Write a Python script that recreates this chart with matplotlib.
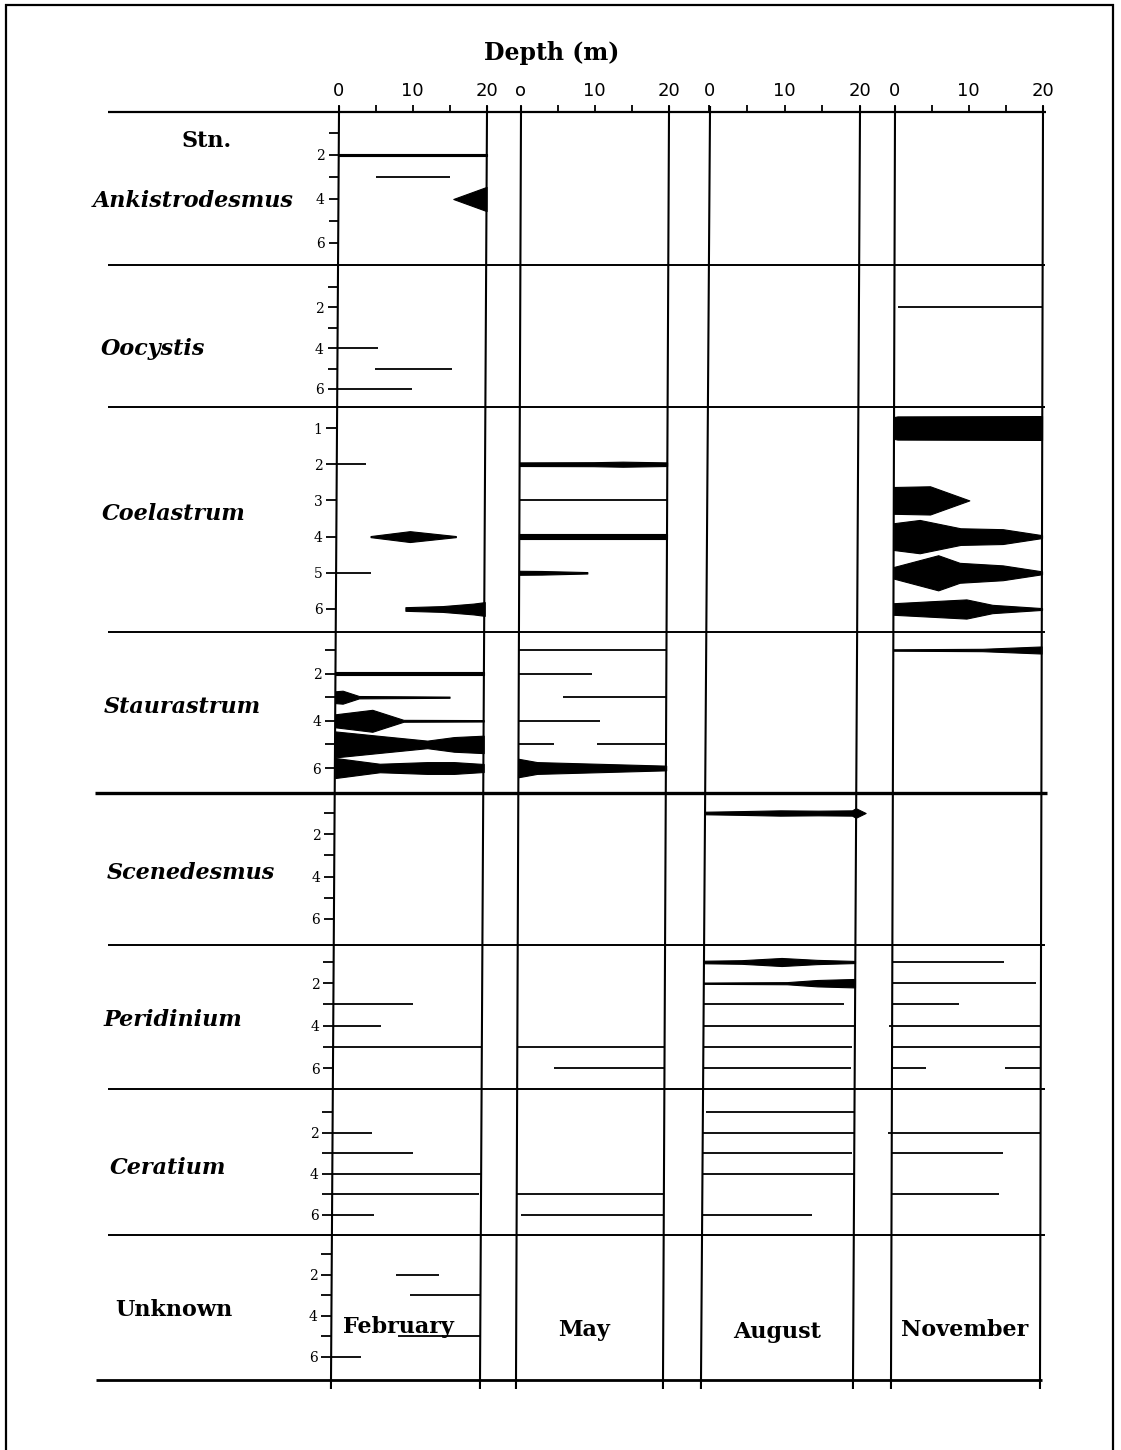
import matplotlib
matplotlib.use("Agg")
import matplotlib.pyplot as plt
from matplotlib.lines import Line2D

# ---------------------------------------------------------------- data
month_keys = ["Feb", "May", "Aug", "Nov"]
month_names = ["February", "May", "August", "November"]
depth_ticks = [0, 5, 10, 15, 20]
depth_ticklabels = [["0", "", "10", "", "20"],
                    ["o", "", "10", "", "20"],
                    ["0", "", "10", "", "20"],
                    ["0", "", "10", "", "20"]]
stations = [1, 2, 3, 4, 5, 6]
taxa = ["Ankistrodesmus", "Oocystis", "Coelastrum", "Staurastrum",
        "Scenedesmus", "Peridinium", "Ceratium", "Unknown"]
labelled_stations = [[2, 4, 6], [2, 4, 6], [1, 2, 3, 4, 5, 6], [2, 4, 6],
                     [2, 4, 6], [2, 4, 6], [2, 4, 6], [2, 4, 6]]

# occurrence ranges: (month, station, from depth m, to depth m)
# abundance profiles: (month, station, depths m, relative abundance width)
ankistrodesmus_ranges = [("Feb", 3, 5.0, 15.0)]
ankistrodesmus_profiles = [("Feb", 2, [0, 20], [0.12, 0.12]),
                           ("Feb", 4, [15.5, 20], [0.0, 1.1])]

oocystis_ranges = [("Feb", 4, 0, 5.5), ("Feb", 5, 5.0, 15.4),
                   ("Feb", 6, 0, 10.0), ("Nov", 2, 0.5, 20)]
oocystis_profiles = []

coelastrum_ranges = [("Feb", 2, 0, 4.0), ("Feb", 5, 0, 4.7), ("May", 3, 0, 20)]
coelastrum_profiles = [
    ("Feb", 4, [4.6, 9.9, 16.1], [0.03, 0.30, 0.03]),
    ("Feb", 6, [9.3, 14.3, 18.5, 20], [0.10, 0.16, 0.30, 0.38]),
    ("May", 2, [0, 10, 14, 20], [0.10, 0.11, 0.14, 0.10]),
    ("May", 4, [0, 20], [0.13, 0.13]),
    ("May", 5, [0, 3, 9.2], [0.11, 0.10, 0.04]),
    ("Nov", 1, [0, 0.5, 19.5, 20], [0.60, 0.64, 0.66, 0.66]),
    ("Nov", 3, [0, 4.9, 10.2], [0.74, 0.78, 0.0]),
    ("Nov", 4, [0, 3.5, 9, 14.7, 20], [0.74, 0.92, 0.46, 0.41, 0.08]),
    ("Nov", 5, [0, 6, 8.9, 14.7, 20], [0.32, 0.97, 0.55, 0.41, 0.08]),
    ("Nov", 6, [0, 9.8, 13.3, 20], [0.32, 0.53, 0.23, 0.05]),
]

staurastrum_ranges = [("May", 1, 0, 20), ("May", 2, 0, 9.9), ("May", 3, 6.0, 20),
                      ("May", 4, 0, 11.0), ("May", 5, 0, 4.8), ("May", 5, 10.6, 20)]
staurastrum_profiles = [
    ("Feb", 2, [0, 20], [0.13, 0.13]),
    ("Feb", 3, [0, 1, 3.2, 15.4], [0.50, 0.55, 0.10, 0.05]),
    ("Feb", 4, [0, 5, 9.2, 20], [0.55, 0.93, 0.08, 0.06]),
    ("Feb", 5, [0, 6, 12.4, 16, 20], [1.10, 0.72, 0.32, 0.62, 0.74]),
    ("Feb", 6, [0, 6, 12.4, 16, 20], [0.85, 0.36, 0.50, 0.50, 0.34]),
    ("May", 6, [0, 2.5, 20], [0.78, 0.50, 0.20]),
    ("Nov", 1, [0, 12, 20], [0.06, 0.10, 0.30]),
]

scenedesmus_ranges = []
scenedesmus_profiles = [
    ("Aug", 1, [0, 5, 10, 15, 19.5, 20, 21.3], [0.12, 0.18, 0.25, 0.22, 0.25, 0.45, 0.0]),
]

peridinium_ranges = [("Feb", 3, 0, 10.7), ("Feb", 4, 0, 6.4), ("Feb", 5, 0, 20),
                     ("May", 5, 0, 20), ("May", 6, 4.9, 20),
                     ("Aug", 3, 0, 18.5), ("Aug", 4, 0, 20), ("Aug", 5, 0, 19.6),
                     ("Aug", 6, 0, 19.5),
                     ("Nov", 1, 0, 15.0), ("Nov", 2, 0, 19.3), ("Nov", 3, 0, 9.0),
                     ("Nov", 4, -0.4, 20), ("Nov", 5, 0, 20), ("Nov", 6, 0, 4.5),
                     ("Nov", 6, 15.2, 20)]
peridinium_profiles = [
    ("Aug", 1, [0, 5, 10.3, 15, 20], [0.12, 0.17, 0.38, 0.20, 0.10]),
    ("Aug", 2, [0, 11, 15, 20], [0.06, 0.10, 0.30, 0.40]),
]

ceratium_ranges = [("Feb", 2, 0, 5.3), ("Feb", 3, 0, 10.9), ("Feb", 4, 0, 20),
                   ("Feb", 5, 0, 19.7), ("Feb", 6, 0, 5.6),
                   ("May", 5, 0, 20), ("May", 6, 0.5, 20),
                   ("Aug", 1, 0.5, 20), ("Aug", 2, 0, 20), ("Aug", 3, 0, 19.7),
                   ("Aug", 4, 0, 20), ("Aug", 6, 0, 14.5),
                   ("Nov", 2, -0.5, 20), ("Nov", 3, 0, 14.9), ("Nov", 5, 0, 14.4)]
ceratium_profiles = []

unknown_ranges = [("Feb", 2, 8.6, 14.4), ("Feb", 3, 10.6, 20),
                  ("Feb", 5, 9.0, 20), ("Feb", 6, 0, 4.0)]
unknown_profiles = []

ranges_by_taxon = [ankistrodesmus_ranges, oocystis_ranges, coelastrum_ranges,
                   staurastrum_ranges, scenedesmus_ranges, peridinium_ranges,
                   ceratium_ranges, unknown_ranges]
profiles_by_taxon = [ankistrodesmus_profiles, oocystis_profiles, coelastrum_profiles,
                     staurastrum_profiles, scenedesmus_profiles, peridinium_profiles,
                     ceratium_profiles, unknown_profiles]

# ---------------------------------------------------------------- layout (pixels)
W, H = 1121, 1450
SERIF = ["DejaVu Serif"]
SANS = ["DejaVu Sans"]

# (row top, row bottom, station 1 centre, station 6 centre)
row_px = [(112, 265, 133, 243), (265, 407, 287, 389), (407, 632, 428, 609),
          (632, 793, 650, 768), (793, 945, 813, 919), (945, 1089, 962, 1068),
          (1089, 1235, 1112, 1215), (1235, 1380, 1254, 1357)]
# x of 0 m and 20 m for each month, at the header line and at the bottom line
col_top = [(339, 487), (521, 669), (710, 860), (895, 1043)]
col_bot = [(331, 480), (516, 663), (701, 853), (891, 1040)]
Y_TOP, Y_BOT = 112, 1380

# taxon label (centre x, baseline y), italic flag
taxon_label_pos = [(193, 207), (153, 355), (174, 520), (182, 713),
                   (191, 879), (173, 1026), (168, 1174), (174, 1316)]
taxon_italic = [True, True, True, True, True, True, True, False]
month_label_pos = [(398, 1333), (584, 1336), (777, 1338), (965, 1336)]

LW_DATA = 1.3
LW_FRAME = 1.5


def col_x(m, y):
    t = (y - Y_TOP) / (Y_BOT - Y_TOP)
    x0 = col_top[m][0] + t * (col_bot[m][0] - col_top[m][0])
    x1 = col_top[m][1] + t * (col_bot[m][1] - col_top[m][1])
    return x0, x1


fig = plt.figure(figsize=(W / 100, H / 100), dpi=100)
fig.patch.set_facecolor("white")


def fline(x0, y0, x1, y1, lw=LW_FRAME):
    fig.add_artist(Line2D([x0 / W, x1 / W], [1 - y0 / H, 1 - y1 / H],
                          transform=fig.transFigure, color="black", lw=lw,
                          solid_capstyle="butt"))


def ftext(x, y, s, **kw):
    fig.text(x / W, 1 - y / H, s, **kw)


# outer frame
fline(6, 4, 6, 1452, 1.6)
fline(5, 5, 1114, 5, 1.6)
fline(1113, 4, 1113, 1452, 1.6)

# header line and row separators
fline(108, Y_TOP, 1046, Y_TOP, 1.6)
for y in [265, 407, 632, 945, 1089, 1235]:
    fline(108, y, 1045, y, 1.4)
fline(95, 793, 1047, 793, 2.4)
fline(96, Y_BOT, 1042, Y_BOT, 2.0)

# month column edges
for m in range(4):
    for k in range(2):
        fline(col_top[m][k] + (col_top[m][k] - col_bot[m][k]) * 6 / 1268, Y_TOP - 6,
              col_bot[m][k] - (col_top[m][k] - col_bot[m][k]) * 9 / 1268, Y_BOT + 9, LW_FRAME)

# ---------------------------------------------------------------- cells
for r, taxon in enumerate(taxa):
    top, bot, s1, s6 = row_px[r]
    step = (s6 - s1) / 5.0
    y_upper = 1 - (s1 - top) / step
    y_lower = 6 + (bot - s6) / step
    ymid = (top + bot) / 2
    for m, key in enumerate(month_keys):
        x0, x1 = col_x(m, ymid)
        ax = fig.add_axes([x0 / W, 1 - bot / H, (x1 - x0) / W, (bot - top) / H])
        ax.set_xlim(0, 20)
        ax.set_ylim(y_lower, y_upper)
        ax.patch.set_alpha(0)
        for sp in ax.spines.values():
            sp.set_visible(False)
        ax.set_xticks([])
        ax.set_yticks([])

        if m == 0:
            ax.set_yticks(stations)
            ax.set_yticklabels([str(s) if s in labelled_stations[r] else "" for s in stations],
                               family=SERIF, fontsize=10)
            ax.tick_params(axis="y", direction="out", length=7, width=1.3, pad=3)
        if r == 0:
            ax.xaxis.set_ticks_position("top")
            ax.set_xticks(depth_ticks)
            ax.set_xticklabels(depth_ticklabels[m], family=SANS, fontsize=13)
            ax.tick_params(axis="x", direction="out", length=5, width=1.3, pad=4)

        for (mk, st, a, b) in ranges_by_taxon[r]:
            if mk == key:
                ax.plot([a, b], [st, st], color="black", lw=LW_DATA,
                        solid_capstyle="butt", clip_on=False)
        for (mk, st, depths, widths) in profiles_by_taxon[r]:
            if mk == key:
                lo = [st - w / 2 for w in widths]
                hi = [st + w / 2 for w in widths]
                ax.fill_between(depths, lo, hi, color="black", lw=0.8,
                                clip_on=False)

# ---------------------------------------------------------------- text
ftext(552, 60, "Depth (m)", ha="center", va="baseline", family=SERIF,
      fontweight="bold", fontsize=17)
ftext(207, 147, "Stn.", ha="center", va="baseline", family=SERIF,
      fontweight="bold", fontsize=16)
for r, taxon in enumerate(taxa):
    cx, by = taxon_label_pos[r]
    ftext(cx, by, taxon, ha="center", va="baseline", family=SERIF,
          fontweight="bold", fontstyle="italic" if taxon_italic[r] else "normal",
          fontsize=16)
for m, name in enumerate(month_names):
    cx, by = month_label_pos[m]
    ftext(cx, by, name, ha="center", va="baseline", family=SERIF,
          fontweight="bold", fontsize=16)

fig.savefig("out.png", dpi=100, facecolor="white")
